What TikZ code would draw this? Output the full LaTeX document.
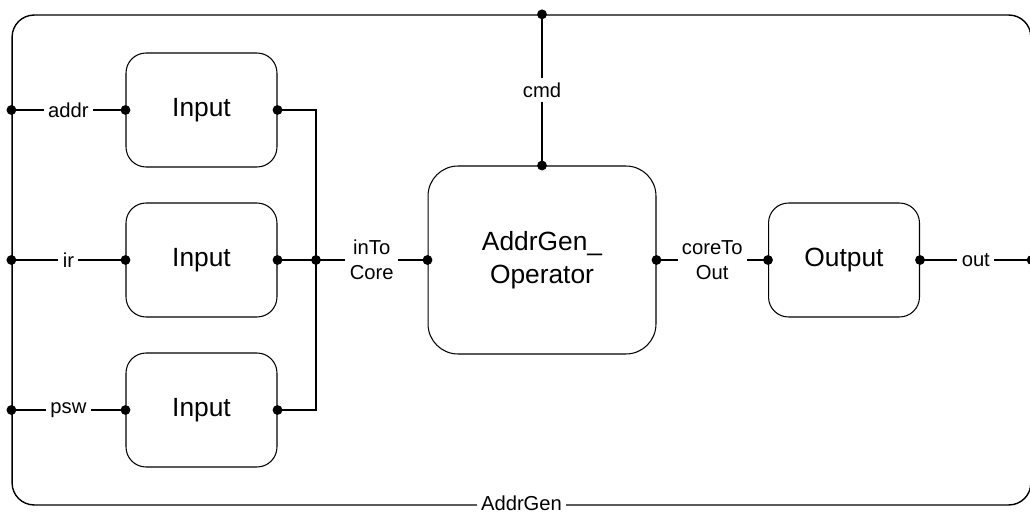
\documentclass[tikz,border=0pt]{standalone}
\usepackage{fontspec}
\setmainfont{Liberation Sans}
\usetikzlibrary{calc}

\tikzset{
  block/.style={draw, rounded corners=0.4cm, minimum width=3.02cm, minimum height=2.28cm,
    font=\fontsize{15}{19}\selectfont, align=center},
  lbl/.style={fill=white, inner sep=2.5pt, font=\fontsize{11.5}{14}\selectfont, align=center},
}

\begin{document}
\begin{tikzpicture}[x=0.02cm, y=-0.02cm, line width=0.6pt]
  \useasboundingbox (0,0) rectangle (1030,513);
  % enclosing module
  \node[draw, line width=0.8pt, rounded corners=0.44cm, minimum width=20.38cm,
        minimum height=9.8cm] (addrgen) at (521.5,260) {};
  \node[lbl, yshift=1.2pt] (name) at (addrgen.south) {AddrGen};
  % inner blocks
  \node[block] (in1) at (201.5,110) {Input};
  \node[block] (in2) at (201.5,260) {Input};
  \node[block] (in3) at (201.5,410) {Input};
  \node[block, rounded corners=0.6cm, minimum width=4.56cm, minimum height=3.76cm]
        (op) at (542,260) {AddrGen\_\\Operator};
  \node[block] (outp) at (844,260) {Output};
  % ports on the module border
  \coordinate (addr) at (addrgen.west |- in1.west);
  \coordinate (ir) at (addrgen.west |- in2.west);
  \coordinate (psw) at (addrgen.west |- in3.west);
  \coordinate (cmd) at (addrgen.north -| op.north);
  \coordinate (outport) at (addrgen.east |- outp.east);
  \coordinate (bus) at (316,260);
  % connections
  \draw (addr) -- node[lbl] (laddr) {addr} (in1.west);
  \draw (ir) -- node[lbl] (lir) {ir} (in2.west);
  \draw (psw) -- node[lbl] (lpsw) {psw} (in3.west);
  \draw (in1.east) -| (bus) |- (in3.east);
  \draw (in2.east) -- (bus) -- node[lbl] (lin) {inTo\\Core} (op.west);
  \draw (cmd) -- node[lbl] (lcmd) {cmd} (op.north);
  \draw (op.east) -- node[lbl] (lcore) {coreTo\\Out} (outp.west);
  \draw (outp.east) -- node[lbl] (lout) {out} (outport);
  % junction dots
  \foreach \p in {addr, ir, psw, cmd, outport, bus, in1.west, in2.west, in3.west,
    in1.east, in2.east, in3.east, op.west, op.north, op.east, outp.west, outp.east}
    \fill (\p) circle (2.8pt);
\end{tikzpicture}
\end{document}
